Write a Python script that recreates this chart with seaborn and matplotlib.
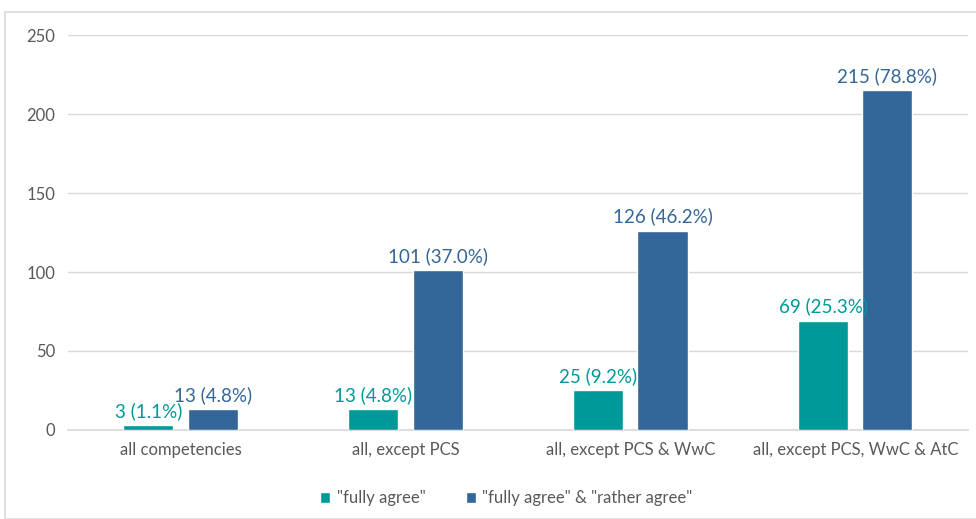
import pandas as pd
import matplotlib.pyplot as plt
import seaborn as sns
from matplotlib.patches import Rectangle

# Data
categories = ["all competencies", "all, except PCS", "all, except PCS & WwC", "all, except PCS, WwC & AtC"]
fully_agree = [3, 13, 25, 69]
fully_agree_pct = [1.1, 4.8, 9.2, 25.3]
fully_or_rather = [13, 101, 126, 215]
fully_or_rather_pct = [4.8, 37.0, 46.2, 78.8]
series_names = ['"fully agree"', '"fully agree" & "rather agree"']
colors = ["#009999", "#336699"]

data = pd.DataFrame({
    "Category": categories * 2,
    "Series": [series_names[0]] * 4 + [series_names[1]] * 4,
    "Count": fully_agree + fully_or_rather,
    "Pct": fully_agree_pct + fully_or_rather_pct,
})

sns.set_theme(style="white")
plt.rcParams["font.family"] = ["Lato", "DejaVu Sans"]

fig = plt.figure(figsize=(9.76, 5.19), dpi=100)
ax = fig.add_axes([0.0697, 0.1715, 0.922, 0.761])

sns.barplot(data=data, x="Category", y="Count", hue="Series", palette=colors,
            width=0.57, gap=0.22, saturation=1, ax=ax, zorder=3)

# Data labels
for container, pcts, col in zip(ax.containers, [fully_agree_pct, fully_or_rather_pct], colors):
    labels = [f"{int(b.get_height())} ({p:.1f}%)" for b, p in zip(container, pcts)]
    ax.bar_label(container, labels=labels, padding=4, color=col, fontsize=13.5)

ax.set_ylim(0, 250)
ax.set_xlim(-0.5, 3.5)
ax.set_yticks([0, 50, 100, 150, 200, 250])
ax.yaxis.grid(True, color="#d9d9d9", linewidth=1)
ax.set_axisbelow(True)
for s in ["top", "right", "left"]:
    ax.spines[s].set_visible(False)
ax.spines["bottom"].set_color("#d9d9d9")
ax.tick_params(axis="both", colors="#595959", labelsize=12, length=0, pad=9)
ax.set_xlabel("")
ax.set_ylabel("")

ax.legend(loc="upper center", bbox_to_anchor=(0.487, -0.115), ncol=2, frameon=False,
          fontsize=12, labelcolor="#595959", handlelength=0.6, handleheight=0.6,
          columnspacing=2.4, handletextpad=0.4)

# Chart border
fig.patches.append(Rectangle((5 / 976, 0), 1.0, 1 - 12 / 519, transform=fig.transFigure,
                             fill=False, edgecolor="#d9d9d9", linewidth=1.2))

fig.savefig("out.png", dpi=100)
